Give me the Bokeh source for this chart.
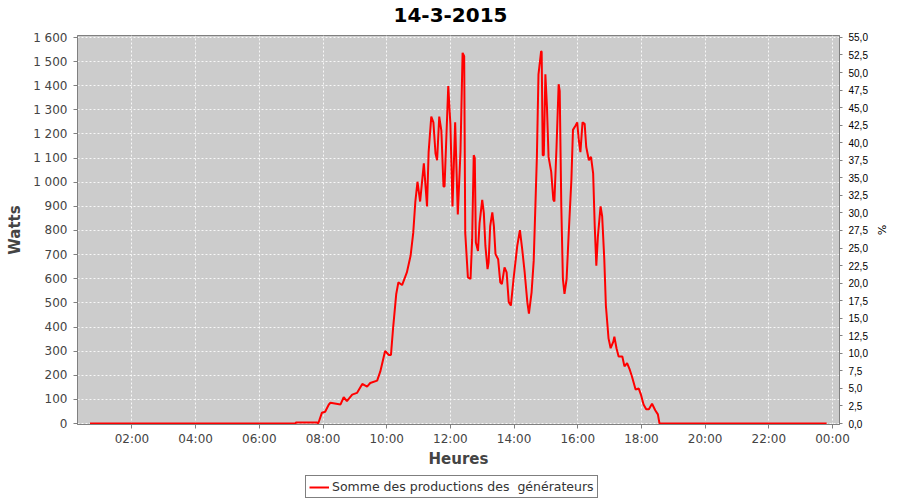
from bokeh.plotting import figure
from bokeh.layouts import column
from bokeh.models import Range1d, LinearAxis, FixedTicker, Legend, LegendItem, Label
from bokeh.embed import file_html
from bokeh.resources import INLINE

# ---- data ----
times = ["00:41", "07:08", "07:09", "07:49", "07:51", "07:58", "08:04", "08:11", "08:14", "08:33",
         "08:39", "08:45", "08:55", "09:04", "09:14", "09:23", "09:29", "09:42", "09:48", "09:57",
         "10:04", "10:08", "10:12", "10:18", "10:22", "10:29", "10:38", "10:45", "10:50", "10:54",
         "10:58", "11:03", "11:10", "11:16", "11:19", "11:24", "11:28", "11:32", "11:35", "11:39",
         "11:43", "11:47", "11:49", "11:56", "12:00", "12:04", "12:09", "12:14", "12:19", "12:23",
         "12:26", "12:28", "12:33", "12:38", "12:41", "12:44", "12:46", "12:48", "12:52", "12:55",
         "13:00", "13:03", "13:06", "13:10", "13:12", "13:15", "13:19", "13:22", "13:25", "13:30",
         "13:34", "13:37", "13:42", "13:46", "13:50", "13:54", "13:59", "14:06", "14:11", "14:15",
         "14:20", "14:25", "14:28", "14:33", "14:37", "14:43", "14:46", "14:51", "14:52", "14:54",
         "14:56", "14:59", "15:02", "15:05", "15:10", "15:14", "15:16", "15:20", "15:24", "15:26",
         "15:29", "15:32", "15:35", "15:39", "15:43", "15:48", "15:51", "15:56", "15:59", "16:02",
         "16:05", "16:09", "16:13", "16:16", "16:21", "16:25", "16:29", "16:32", "16:35", "16:38",
         "16:43", "16:46", "16:50", "16:53", "16:58", "17:02", "17:07", "17:09", "17:13", "17:17",
         "17:24", "17:28", "17:33", "17:38", "17:42", "17:49", "17:55", "17:59", "18:04", "18:09",
         "18:14", "18:20", "18:26", "18:31", "18:34", "23:49"]
watts = [0, 0, 4, 4, 0, 45, 49, 79, 86, 79,
         109, 93, 120, 127, 164, 153, 168, 178, 216, 301,
         284, 284, 394, 537, 585, 574, 626, 695, 790, 920,
         1002, 920, 1078, 900, 1125, 1272, 1248, 1119, 1091, 1272,
         1214, 982, 982, 1399, 1242, 900, 1248, 866, 1125, 1536,
         1522, 790, 606, 599, 763, 1112, 1100, 750, 715, 832,
         927, 873, 736, 640, 667, 818, 875, 818, 702, 681,
         585, 578, 647, 626, 503, 489, 599, 736, 801, 729,
         626, 503, 455, 544, 674, 1105, 1447, 1543, 1540, 1112,
         1112, 1447, 1310, 1105, 1043, 927, 920, 1146, 1406, 1378,
         900, 599, 537, 599, 790, 1009, 1217, 1235, 1248, 1173,
         1125, 1248, 1242, 1146, 1091, 1105, 1037, 818, 654, 777,
         900, 859, 681, 489, 353, 312, 339, 360, 312, 278,
         278, 237, 250, 223, 196, 141, 145, 120, 79, 59,
         59, 82, 55, 38, 0, 0]

x_tick_hours = [2, 4, 6, 8, 10, 12, 14, 16, 18, 20, 22, 24]
x_tick_labels = ["02:00", "04:00", "06:00", "08:00", "10:00", "12:00",
                 "14:00", "16:00", "18:00", "20:00", "22:00", "00:00"]
y_ticks = [0, 100, 200, 300, 400, 500, 600, 700, 800, 900, 1000, 1100, 1200, 1300, 1400, 1500, 1600]
y_tick_labels = ["0", "100", "200", "300", "400", "500", "600", "700", "800", "900",
                 "1 000", "1 100", "1 200", "1 300", "1 400", "1 500", "1 600"]
pct_ticks = [0, 2.5, 5, 7.5, 10, 12.5, 15, 17.5, 20, 22.5, 25, 27.5, 30, 32.5, 35, 37.5, 40,
             42.5, 45, 47.5, 50, 52.5, 55]
pct_labels = ["0,0", "2,5", "5,0", "7,5", "10,0", "12,5", "15,0", "17,5", "20,0", "22,5", "25,0",
              "27,5", "30,0", "32,5", "35,0", "37,5", "40,0", "42,5", "45,0", "47,5", "50,0",
              "52,5", "55,0"]
pct_max = 55
watt_at_pct_max = 1600

title_text = "14-3-2015"
x_label = "Heures"
y_label = "Watts"
y2_label = "%"
series_label = "Somme des productions des  générateurs"

hours = [int(t.split(":")[0]) + int(t.split(":")[1]) / 60 for t in times]

LINE_COLOR = "#FF0000"
W = 892

def strip(height):
    f = figure(width=W, height=height, output_backend="svg", toolbar_location=None,
               x_range=Range1d(0, 1), y_range=Range1d(0, 1),
               min_border_left=0, min_border_right=0, min_border_top=0, min_border_bottom=0)
    f.axis.visible = False
    f.grid.visible = False
    f.outline_line_color = None
    f.background_fill_color = "white"
    f.border_fill_color = "white"
    return f

# ---- title strip ----
t0 = strip(30)
t0.add_layout(Label(x=373, y=16, x_units="screen", y_units="screen", text=title_text,
                    text_align="center", text_baseline="alphabetic",
                    text_font="DejaVu Sans", text_font_size="20px", text_font_style="bold",
                    text_color="black"))

# ---- main figure ----
y_lo, y_hi = -4, 1608
p = figure(width=W, height=440, output_backend="svg", toolbar_location=None,
           x_range=Range1d(0.29, 24.22), y_range=Range1d(y_lo, y_hi),
           min_border_left=77, min_border_right=53, min_border_top=5, min_border_bottom=43)

p.background_fill_color = "#CCCCCC"
p.border_fill_color = "white"
p.outline_line_color = "#808080"
p.outline_line_width = 1

for g in (p.xgrid, p.ygrid):
    g.grid_line_color = "white"
    g.grid_line_dash = "2 2"
    g.grid_line_width = 1
    g.grid_line_alpha = 0.85
p.xgrid.ticker = FixedTicker(ticks=x_tick_hours)
p.ygrid.ticker = FixedTicker(ticks=y_ticks)

def style_axis(ax, label_color="#444444", size="12px", font="DejaVu Sans"):
    ax.axis_line_color = "#808080"
    ax.major_tick_line_color = "#808080"
    ax.major_tick_out = 4
    ax.major_tick_in = 0
    ax.minor_tick_out = 0
    ax.minor_tick_in = 0
    ax.major_label_text_font = font
    ax.major_label_text_font_size = size
    ax.major_label_text_color = label_color
    ax.major_label_standoff = 6
    ax.axis_label_text_font = "DejaVu Sans"
    ax.axis_label_text_font_style = "bold"
    ax.axis_label_text_font_size = "15px"
    ax.axis_label_text_color = "#444444"

xa = p.xaxis[0]
xa.ticker = FixedTicker(ticks=x_tick_hours)
xa.major_label_overrides = dict(zip(x_tick_hours, x_tick_labels))
xa.axis_label = x_label
style_axis(xa)
xa.major_label_standoff = 3
xa.axis_label_standoff = 1

ya = p.yaxis[0]
ya.ticker = FixedTicker(ticks=y_ticks)
ya.major_label_overrides = dict(zip(y_ticks, y_tick_labels))
ya.axis_label = y_label
style_axis(ya)
ya.axis_label_standoff = 6

scale = pct_max / watt_at_pct_max
p.extra_y_ranges = {"pct": Range1d(y_lo * scale, y_hi * scale)}
ra = LinearAxis(y_range_name="pct", ticker=FixedTicker(ticks=pct_ticks),
                major_label_overrides=dict(zip(pct_ticks, pct_labels)), axis_label=y2_label)
style_axis(ra, label_color="black", size="10px", font="Liberation Sans")
ra.major_tick_out = 3
ra.major_label_standoff = 6
ra.axis_label_text_font_style = "normal"
ra.axis_label_text_font_size = "11px"
ra.axis_label_text_color = "black"
ra.axis_label_standoff = 4
p.add_layout(ra, "right")

r = p.line(hours, watts, line_color=LINE_COLOR, line_width=2)

# ---- legend strip below the chart ----
q = strip(28)
key = q.line([-2, -1], [-2, -1], line_color=LINE_COLOR, line_width=2)

legend = Legend(items=[LegendItem(label=series_label, renderers=[key])],
                location=(228, 0), orientation="horizontal")
legend.border_line_color = "black"
legend.border_line_width = 1
legend.background_fill_color = "white"
legend.background_fill_alpha = 1
legend.padding = 3
legend.margin = 0
legend.spacing = 0
legend.label_standoff = 3
legend.glyph_width = 20
legend.glyph_height = 14
legend.label_height = 14
legend.label_text_font = "DejaVu Sans"
legend.label_text_font_size = "12.5px"
legend.label_text_color = "#333333"
q.add_layout(legend)

page = column(t0, p, q, spacing=0)
open("out.html", "w").write(file_html(page, INLINE))
